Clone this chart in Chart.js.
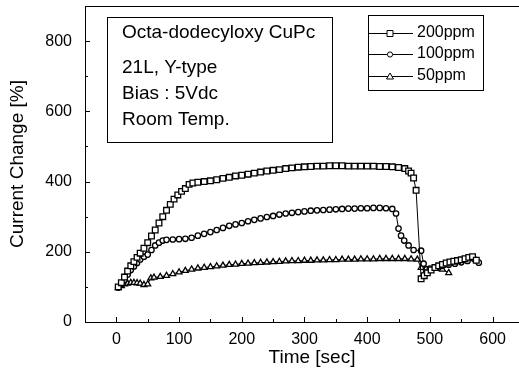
<!DOCTYPE html>
<html>
<head>
<meta charset="utf-8">
<script src="https://cdn.jsdelivr.net/npm/chart.js@4"></script>
<style>
  html, body { margin: 0; padding: 0; background: #fff; overflow: hidden; }
</style>
</head>
<body>
<canvas id="chart" width="545" height="373"></canvas>
<script>
// time (sec) and current change (%)
const t200 = [3, 8, 13, 18, 23, 28, 33, 38, 44, 50, 56, 62, 68, 74, 80, 86, 92, 98, 104, 110, 116, 122,
  130, 140, 150, 160, 170, 180, 190, 200, 210, 220, 230, 240, 250, 260, 270, 280, 290, 300, 310, 320,
  330, 340, 350, 360, 370, 380, 390, 400, 410, 420, 430, 440, 450, 460,
  466, 470, 474, 478, 486, 491, 496, 502, 508, 514, 520, 526, 532, 538, 544, 550, 556, 562, 568, 574];
const v200 = [100, 112, 128, 145, 160, 172, 184, 196, 210, 226, 245, 262, 282, 300, 318, 335, 350, 362, 372, 380, 392, 396,
  398, 400, 402, 405, 409, 412, 416, 418, 421, 424, 427, 430, 432, 434, 437, 439, 441, 442, 443, 444,
  444, 445, 445, 445, 444, 444, 444, 444, 444, 443, 443, 442, 440, 437,
  430, 424, 410, 375, 123, 132, 140, 148, 155, 160, 164, 168, 171, 173, 175, 177, 180, 184, 186, 176];

const t100 = [3, 8, 13, 18, 23, 28, 33, 38, 44, 50, 56, 62, 68, 74, 80,
  90, 100, 110, 120, 130, 140, 150, 160, 170, 180, 190, 200, 210, 220, 230, 240, 250, 260,
  270, 280, 290, 300, 310, 320, 330, 340, 350, 360, 370, 380, 390, 400, 410, 420, 430, 440,
  446, 450, 454, 459, 466, 474, 486, 490, 495, 500, 510, 520, 530, 540, 550, 560, 570, 578];
const v100 = [98, 108, 120, 135, 148, 158, 168, 178, 186, 192, 205, 218, 226, 232, 234,
  235, 236, 237, 240, 246, 251, 256, 262, 268, 274, 278, 282, 287, 291, 295, 299, 302, 306,
  309, 311, 313, 315, 317, 318, 319, 320, 321, 322, 323, 323, 324, 324, 325, 325, 324, 322,
  309, 266, 246, 232, 218, 205, 203, 166, 150, 152, 156, 160, 163, 166, 170, 174, 180, 169];

const t50 = [3, 8, 13, 18, 23, 28, 33, 38, 44, 50, 55,
  60, 70, 80, 90, 100, 110, 120, 130, 140, 150, 160, 170, 180, 190, 200, 210, 220, 230, 240, 250,
  260, 270, 280, 290, 300, 310, 320, 330, 340, 350, 360, 370, 380, 390, 400, 410, 420, 430, 440,
  450, 460, 470, 480, 486, 492, 500, 510, 520, 530];
const v50 = [97, 103, 108, 110, 112, 112, 111, 110, 106, 108, 125,
  127, 129, 132, 137, 142, 146, 150, 153, 155, 157, 159, 161, 163, 164, 166, 167, 168, 169, 170, 171,
  172, 173, 174, 174, 175, 175, 176, 176, 177, 177, 178, 178, 178, 179, 179, 179, 180, 180, 180,
  180, 180, 179, 178, 155, 140, 148, 152, 150, 140];

const seriesNames = ['200ppm', '100ppm', '50ppm'];
const infoLines = ['Octa-dodecyloxy CuPc', '21L, Y-type', 'Bias : 5Vdc', 'Room Temp.'];

const FONT = "'Liberation Sans', Arial, sans-serif";

const toPoints = (xs, ys) => xs.map((x, i) => ({ x: x, y: ys[i] }));

function series(label, xs, ys, style, r) {
  return {
    label: label,
    data: toPoints(xs, ys),
    showLine: true,
    borderColor: '#000',
    borderWidth: 1,
    pointStyle: style,
    pointRadius: r,
    pointBorderWidth: 1.3,
    pointBorderColor: '#000',
    pointBackgroundColor: '#fff',
  };
}

// legend marker, same shapes as the plotted points
function marker(ctx, style, x, y) {
  ctx.beginPath();
  if (style === 'rect') {
    ctx.rect(x - 3, y - 3, 6, 6);
  } else if (style === 'circle') {
    ctx.arc(x, y, 2.6, 0, Math.PI * 2);
  } else {
    ctx.moveTo(x, y - 3.5);
    ctx.lineTo(x + 3.5, y + 2.5);
    ctx.lineTo(x - 3.5, y + 2.5);
    ctx.closePath();
  }
  ctx.fillStyle = '#fff';
  ctx.fill();
  ctx.stroke();
}

const decor = {
  id: 'decor',
  afterDraw(chart) {
    const ctx = chart.ctx;
    const a = chart.chartArea;
    const xs = chart.scales.x;
    const ys = chart.scales.y;
    ctx.save();
    ctx.strokeStyle = '#000';
    ctx.lineWidth = 1;
    ctx.strokeRect(a.left + 0.5, a.top + 0.5, a.width, a.height);

    // inward ticks
    ctx.beginPath();
    xs.ticks.forEach(t => {
      const px = Math.round(xs.getPixelForValue(t.value)) + 0.5;
      const len = t.value % 100 === 0 ? 5 : 3;
      ctx.moveTo(px, a.bottom);
      ctx.lineTo(px, a.bottom - len);
    });
    ys.ticks.forEach(t => {
      const py = Math.round(ys.getPixelForValue(t.value)) + 0.5;
      const len = t.value % 200 === 0 ? 5 : 3;
      ctx.moveTo(a.left, py);
      ctx.lineTo(a.left + len, py);
    });
    ctx.stroke();

    // info box
    ctx.strokeRect(107.5, 17.5, 225, 125);
    ctx.fillStyle = '#000';
    ctx.font = '19px ' + FONT;
    ctx.textBaseline = 'middle';
    const rows = [33, 68, 94, 120];
    infoLines.forEach((s, i) => ctx.fillText(s, 122, rows[i]));

    // legend box
    ctx.strokeRect(368.5, 15.5, 115, 75);
    ctx.font = '16px ' + FONT;
    const ly = [33, 54, 76];
    chart.data.datasets.forEach((ds, i) => {
      const y = ly[i] + 0.5;
      ctx.lineWidth = 1;
      ctx.beginPath();
      ctx.moveTo(368, y);
      ctx.lineTo(413, y);
      ctx.stroke();
      marker(ctx, ds.pointStyle, 390, y);
      ctx.fillStyle = '#000';
      ctx.fillText(seriesNames[i], 417, ly[i]);
    });
    ctx.restore();
  }
};

new Chart(document.getElementById('chart'), {
  type: 'scatter',
  data: {
    datasets: [
      series(seriesNames[0], t200, v200, 'rect', 4),
      series(seriesNames[1], t100, v100, 'circle', 2.7),
      series(seriesNames[2], t50, v50, 'triangle', 3.4),
    ]
  },
  options: {
    responsive: false,
    animation: false,
    layout: { padding: { top: 6, right: 6, bottom: 0, left: 0 } },
    plugins: { legend: { display: false }, tooltip: { enabled: false } },
    scales: {
      x: {
        type: 'linear',
        min: -50,
        max: 674,
        grid: { display: false },
        border: { display: false },
        ticks: {
          stepSize: 50,
          autoSkip: false,
          maxRotation: 0,
          padding: 0,
          color: '#000',
          font: { family: FONT, size: 16 },
          callback: v => (v % 100 === 0 ? v : ''),
        },
        title: {
          display: true,
          text: 'Time [sec]',
          color: '#000',
          font: { family: FONT, size: 19 },
          padding: { top: 0, bottom: 4 },
        },
        afterFit: s => {
          s.height = 51;
          s.paddingLeft = 0;
          s.paddingRight = 0;
        },
      },
      y: {
        min: 0,
        max: 900,
        grid: { display: false },
        border: { display: false },
        ticks: {
          stepSize: 100,
          padding: 5,
          color: '#000',
          font: { family: FONT, size: 16 },
          callback: v => (v % 200 === 0 ? v : ''),
        },
        title: {
          display: true,
          text: 'Current Change [%]',
          color: '#000',
          font: { family: FONT, size: 19 },
          padding: { top: 6, bottom: 0 },
        },
        afterFit: s => {
          s.width = 85;
          s.paddingTop = 0;
          s.paddingBottom = 0;
        },
      },
    },
  },
  plugins: [decor],
});
</script>
</body>
</html>
